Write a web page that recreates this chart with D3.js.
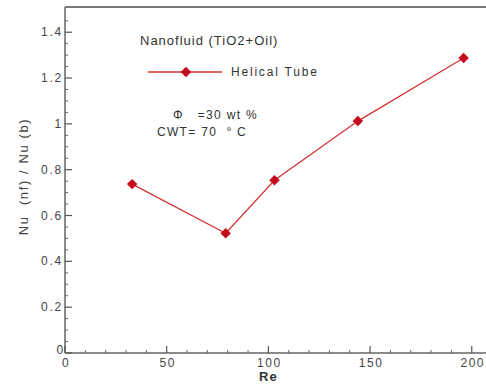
<!DOCTYPE html>
<html>
<head>
<meta charset="utf-8">
<script src="https://cdn.jsdelivr.net/npm/d3@7"></script>
<style>
body{margin:0;background:#fff;}
svg text{font-family:"Liberation Sans",Arial,sans-serif;white-space:pre;}
</style>
</head>
<body>
<div id="chart"></div>
<script>
var re=[33,79,103,144,196]
var nuRatio=[0.737,0.523,0.754,1.012,1.287]
var xTicks=[0,50,100,150,200]
var yTicks=[0,0.2,0.4,0.6,0.8,1,1.2,1.4]
var seriesName="Helical Tube"

var margin={top:7,left:65,right:0,bottom:32},
    width=486-margin.left-margin.right,
    height=385-margin.top-margin.bottom;

var svg=d3.select("#chart").append("svg")
    .attr("width",486)
    .attr("height",385)
    .append("g")
    .attr("transform","translate("+margin.left+","+margin.top+")");

var x=d3.scaleLinear().domain([0,207]).range([0,width])
var y=d3.scaleLinear().domain([0,1.51]).range([height,0])

// frame
svg.append("line").attr("x1",0).attr("x2",width).attr("y1",0).attr("y2",0)
    .style("stroke","#777").style("stroke-width",2)
svg.append("line").attr("x1",0).attr("x2",0).attr("y1",0).attr("y2",height)
    .style("stroke","#666").style("stroke-width",1.5)
svg.append("line").attr("x1",0).attr("x2",width).attr("y1",height).attr("y2",height)
    .style("stroke","#666").style("stroke-width",1.5)

// minor ticks
var xMinor=d3.range(0,207,10).filter(function(v){return v%50!=0})
svg.selectAll(".xminor").data(xMinor).enter().append("line")
    .attr("x1",function(d){return x(d)}).attr("x2",function(d){return x(d)})
    .attr("y1",height).attr("y2",height-3)
    .style("stroke","#666").style("stroke-width",1)
var yMinor=d3.range(0,1.5,0.05).filter(function(v){return Math.abs(v*5-Math.round(v*5))>0.01})
svg.selectAll(".yminor").data(yMinor).enter().append("line")
    .attr("x1",0).attr("x2",3)
    .attr("y1",function(d){return y(d)}).attr("y2",function(d){return y(d)})
    .style("stroke","#666").style("stroke-width",1)

// major ticks
svg.selectAll(".xmajor").data(xTicks).enter().append("line")
    .attr("x1",function(d){return x(d)}).attr("x2",function(d){return x(d)})
    .attr("y1",height).attr("y2",height-7)
    .style("stroke","#555").style("stroke-width",1.2)
svg.selectAll(".ymajor").data(yTicks).enter().append("line")
    .attr("x1",0).attr("x2",7)
    .attr("y1",function(d){return y(d)}).attr("y2",function(d){return y(d)})
    .style("stroke","#555").style("stroke-width",1.2)

// tick labels
svg.selectAll(".xlab").data(xTicks).enter().append("text")
    .attr("x",function(d){return x(d)+1}).attr("y",height+14)
    .attr("text-anchor","middle")
    .style("font-size","12px").style("letter-spacing","1.5px").style("fill","#444")
    .text(function(d){return d})
svg.selectAll(".ylab").data(yTicks).enter().append("text")
    .attr("x",function(d){return d==0?0:-2}).attr("y",function(d){return y(d)+(d==0?1:4)})
    .attr("text-anchor","end")
    .style("font-size","12px").style("letter-spacing","1.8px").style("fill","#444")
    .text(function(d){return d})

// axis titles
svg.append("text").attr("x",x(100)).attr("y",height+28)
    .attr("text-anchor","middle")
    .style("font-size","13px").style("font-weight","bold").style("letter-spacing","1px").style("fill","#333")
    .text("Re")
svg.append("text")
    .attr("transform","translate(-37,"+y(0.77)+") rotate(-90)")
    .attr("text-anchor","middle")
    .style("font-size","13px").style("letter-spacing","1.6px").style("fill","#444")
    .text("Nu  (nf) / Nu (b)")

// data line
var line=d3.line()
    .x(function(d,i){return x(re[i])})
    .y(function(d){return y(d)})
svg.append("path").datum(nuRatio)
    .attr("d",line)
    .style("fill","none").style("stroke","#d43030").style("stroke-width",1.2)

var diamond=d3.symbol().type(d3.symbolDiamond2).size(70)
svg.selectAll(".pt").data(nuRatio).enter().append("path")
    .attr("d",diamond)
    .attr("transform",function(d,i){return "translate("+x(re[i])+","+y(d)+")"})
    .style("fill","#c40c1c")

// title / legend / notes
svg.append("text").attr("x",75).attr("y",38)
    .style("font-size","13px").style("letter-spacing","1px").style("fill","#333")
    .text("Nanofluid (TiO2+Oil)")
svg.append("line").attr("x1",83).attr("x2",157).attr("y1",65).attr("y2",65)
    .style("stroke","#d43030").style("stroke-width",1.5)
svg.append("path").attr("d",diamond)
    .attr("transform","translate(121,65)").style("fill","#c40c1c")
svg.append("text").attr("x",166).attr("y",69)
    .style("font-size","12px").style("letter-spacing","1.8px").style("fill","#333")
    .text(seriesName)
svg.append("text").attr("x",108).attr("y",112)
    .style("font-size","12px").style("letter-spacing","1.3px").style("fill","#333")
    .text("\u03A6   =30 wt %")
svg.append("text").attr("x",92).attr("y",129)
    .style("font-size","12px").style("letter-spacing","1.3px").style("fill","#333")
    .text("CWT= 70  \u00B0 C")
</script>
</body>
</html>
